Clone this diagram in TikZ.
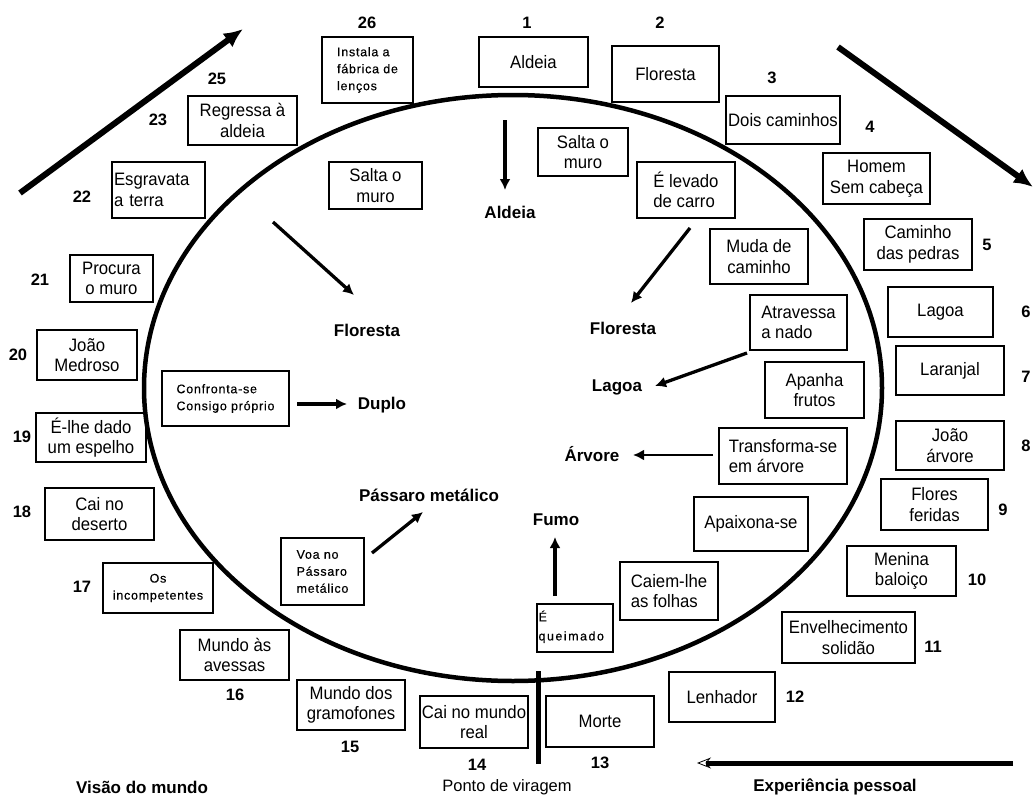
\documentclass[tikz,border=0pt]{standalone}
\usepackage{fontspec}
\setmainfont{Liberation Sans}
\usetikzlibrary{arrows.meta}
\begin{document}
\begin{tikzpicture}[x=1pt,y=-1pt,
  wh/.style 2 args={minimum width=#1pt, minimum height=#2pt},
  box/.style={draw, line width=1.3pt, align=center, inner sep=1.5pt, font=\fontsize{18}{20.5}\selectfont\addfontfeature{FakeStretch=0.93}},
  lbox/.style={box, align=left},
  sbox/.style={draw, line width=1.3pt, align=left, inner sep=2pt, font=\fontsize{12.5}{17}\selectfont\addfontfeature{LetterSpace=6,FakeBold=0.4}},
  lbl/.style={font=\bfseries\fontsize{17}{19}\selectfont, inner sep=0pt},
  num/.style={font=\bfseries\fontsize{16.5}{19}\selectfont, inner sep=0pt},
  plain/.style={font=\fontsize{16.5}{19}\selectfont, inner sep=0pt},
  arr/.style={line width=3.3pt, -{Latex[length=11pt,width=11pt]}},
  big/.style={line width=6pt, -{Latex[length=19pt,width=17pt]}},
]
\useasboundingbox (0,0) rectangle (1034,795);

% main ellipse
\draw[line width=4.5pt] (513,388) ellipse [x radius=369pt, y radius=293pt];

% ---------- outer boxes ----------
\node[sbox, wh={91}{66}] (b26) at (367.5,70) {Instala a\\fábrica de\\lenços};
\node[box, wh={109}{50}] (b1) at (533.5,62) {Aldeia};
\node[box, wh={107}{56}] (b2) at (665.5,74) {Floresta};
\node[box, wh={114}{48}, inner xsep=0.5pt] (b3) at (783,120) {Dois caminhos};
\node[box, wh={107}{51}] (b4) at (876.5,178.5) {Homem\\Sem cabeça};
\node[box, wh={108}{51}] (b5) at (918,244.5) {Caminho\\das pedras};
\node[box, wh={105}{50}] (b6) at (940.5,312) {Lagoa};
\node[box, wh={108}{49}] (b7) at (950,370.5) {Laranjal};
\node[box, wh={108}{49}] (b8) at (950,445.5) {João\\árvore};
\node[box, wh={107}{51}] (b9) at (934.5,504.5) {Flores\\feridas};
\node[box, wh={109}{50}] (b10) at (901.5,571) {Menina\\baloiço};
\node[box, wh={133}{51}] (b11) at (848.5,637.5) {Envelhecimento\\solidão};
\node[box, wh={106}{50}] (b12) at (722,697) {Lenhador};
\node[box, wh={108}{51}] (b13) at (600,721.5) {Morte};
\node[box, wh={108}{52}, inner xsep=0.5pt] (b14) at (474,722) {Cai no mundo\\real};
\node[box, wh={108}{50}] (b15) at (351,705) {Mundo dos\\gramofones};
\node[box, wh={109}{50}] (b16) at (234.5,655) {Mundo às\\avessas};
\node[sbox, wh={110}{50}, align=center] (b17) at (158,588) {Os\\incompetentes};
\node[box, wh={109}{52}] (b18) at (99.5,514) {Cai no\\deserto};
\node[box, wh={110}{49}] (b19) at (91,437.5) {É-lhe dado\\um espelho};
\node[box, wh={100}{50}] (b20) at (87,355) {João\\Medroso};
\node[box, wh={83}{47}] (b21) at (111.5,278.5) {Procura\\o muro};
\node[box, wh={93}{56}, text width=89pt, inner xsep=1pt, align=left] (b22) at (158.5,190) {Esgravata\\a terra};
\node[box, wh={109}{49}] (b25) at (242.5,120.5) {Regressa à\\aldeia};

% ---------- numbers ----------
\node[num] (n1) at (527,23) {1};
\node[num] (n2) at (660,23) {2};
\node[num] (n3) at (772,78) {3};
\node[num] (n4) at (870,127) {4};
\node[num] (n5) at (987,245) {5};
\node[num] (n6) at (1026,312) {6};
\node[num] (n7) at (1026,377) {7};
\node[num] (n8) at (1026,446) {8};
\node[num] (n9) at (1003,510) {9};
\node[num] (n10) at (977,580) {10};
\node[num] (n11) at (933,647) {11};
\node[num] (n12) at (795,697) {12};
\node[num] (n13) at (600,763) {13};
\node[num] (n14) at (477,765) {14};
\node[num] (n15) at (350,747) {15};
\node[num] (n16) at (235,695) {16};
\node[num] (n17) at (82,587) {17};
\node[num] (n18) at (22,512) {18};
\node[num] (n19) at (22,437) {19};
\node[num] (n20) at (18,355) {20};
\node[num] (n21) at (40,280) {21};
\node[num] (n22) at (82,197) {22};
\node[num] (n23) at (158,120) {23};
\node[num] (n25) at (217,79) {25};
\node[num] (n26) at (367,23) {26};

% ---------- inner boxes ----------
\node[box, wh={93}{47}] (i1) at (375.5,185.5) {Salta o\\muro};
\node[box, wh={90}{48}] (i2) at (583,152) {Salta o\\muro};
\node[lbox, wh={98}{56}] (i3) at (686,190) {É levado\\de carro};
\node[box, wh={98}{55}] (i4) at (759,256.5) {Muda de\\caminho};
\node[lbox, wh={97}{55}] (i5) at (798.5,322.5) {Atravessa\\a nado};
\node[box, wh={99}{56}] (i6) at (814.5,390) {Apanha\\frutos};
\node[lbox, wh={128}{56}] (i7) at (783,456) {Transforma-se\\em árvore};
\node[box, wh={114}{54}] (i8) at (751,524) {Apaixona-se};
\node[lbox, wh={98}{58}] (i9) at (669,591) {Caiem-lhe\\as folhas};
\node[draw, line width=1.3pt, wh={76}{48}, inner sep=0pt] (i10) at (575,628) {};
\node[anchor=north west, inner sep=0pt, align=left, font=\fontsize{12.5}{19}\selectfont\addfontfeature{LetterSpace=12,FakeBold=0.4}] (i10t) at ([shift={(2pt,-7pt)}]i10.north west) {É\\queimado};
\node[sbox, wh={127}{55}] (i11) at (225.5,398.5) {Confronta-se\\Consigo próprio};
\node[sbox, wh={83}{67}] (i12) at (322.5,571.5) {Voa no\\Pássaro\\metálico};

% ---------- inner labels ----------
\node[lbl] (lAldeia) at (510,212) {Aldeia};
\node[lbl] (lFlorL) at (367,330) {Floresta};
\node[lbl] (lFlorR) at (623,328) {Floresta};
\node[lbl] (lDuplo) at (382,405) {Duplo};
\node[lbl] (lLagoa) at (617,387) {Lagoa};
\node[lbl] (lArvore) at (592,454) {Árvore};
\node[lbl] (lPassaro) at (429,495) {Pássaro metálico};
\node[lbl] (lFumo) at (556,520) {Fumo};

% ---------- bottom texts ----------
\node[lbl] (tVisao) at (142,787) {Visão do mundo};
\node[plain] (tPonto) at (507,787) {Ponto de viragem};
\node[lbl] (tExp) at (835,787) {Experiência pessoal};

% ---------- arrow end points ----------
\coordinate (aA1) at (505,120);   \coordinate (aA2) at (505,190);
\coordinate (aL1) at (273,222);   \coordinate (aL2) at (354,295);
\coordinate (aR1) at (690,228);   \coordinate (aR2) at (631,303);
\coordinate (aG1) at (747,353);   \coordinate (aG2) at (655,386);
\coordinate (aT1) at (713,455);   \coordinate (aT2) at (633,455);
\coordinate (aD1) at (297,404);   \coordinate (aD2) at (347,404);
\coordinate (aP1) at (372,553);   \coordinate (aP2) at (423,512);
\coordinate (aF1) at (555,596);   \coordinate (aF2) at (555,537);
\coordinate (bg1) at (20,193);    \coordinate (bg2) at (243,29);
\coordinate (bg3) at (838,47);    \coordinate (bg4) at (1033,187);
\coordinate (ex1) at (1013,763);  \coordinate (ex2) at (697,763);
\coordinate (v1) at (538,671);    \coordinate (v2) at (538,764);

\draw[arr] (aA1) -- (aA2);
\draw[arr] (aL1) -- (aL2);
\draw[arr] (aR1) -- (aR2);
\draw[arr] (aG1) -- (aG2);
\draw[arr, line width=2.8pt] (aT1) -- (aT2);
\draw[arr] (aD1) -- (aD2);
\draw[arr] (aP1) -- (aP2);
\draw[arr, line width=4pt] (aF1) -- (aF2);
\draw[big] (bg1) -- (bg2);
\draw[big] (bg3) -- (bg4);
\draw[line width=5pt, -{Stealth[open, length=14pt, width=11pt, line width=0.8pt]}] (ex1) -- (ex2);
\draw[line width=5pt] (v1) -- (v2);
\end{tikzpicture}
\end{document}
